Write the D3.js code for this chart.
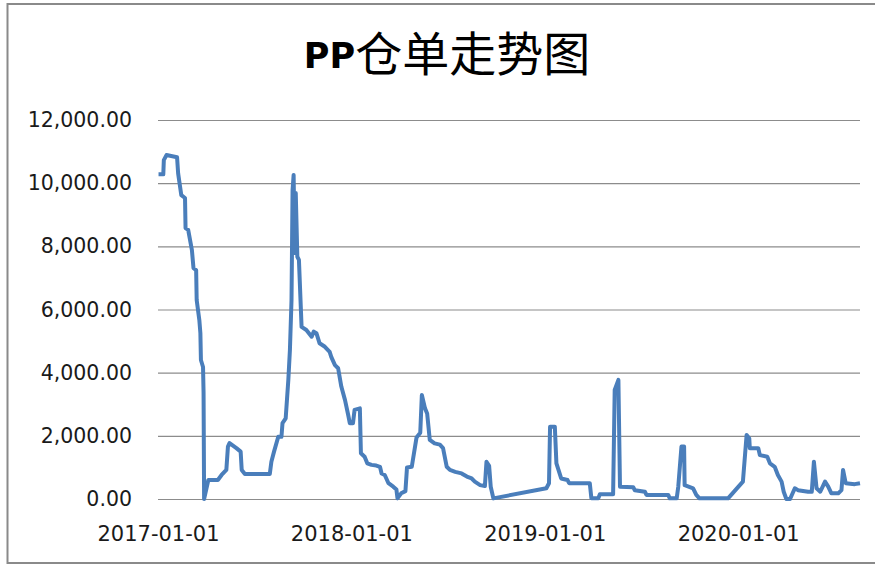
<!DOCTYPE html>
<meta charset="utf-8">
<html>
<head>
  <script src="https://cdn.jsdelivr.net/npm/d3@7"></script>
</head>
<style>
body {
    margin: 0;
    background-color: white;
}
.tick text {
    font-family: "DejaVu Sans", sans-serif;
    fill: #1a1a1a;
}
#title {
    text-anchor: middle;
}
</style>
<body>
<div id="container"></div>
<script type="text/javascript">

// PP warehouse receipts
var dates = [
  "2017-01-02","2017-01-11","2017-01-12","2017-01-17","2017-02-06","2017-02-08","2017-02-14","2017-02-21",
  "2017-02-22","2017-02-27","2017-03-06","2017-03-09","2017-03-14","2017-03-15","2017-03-20","2017-03-22",
  "2017-03-23","2017-03-27","2017-03-28","2017-03-29","2017-04-06","2017-04-24","2017-05-01","2017-05-10",
  "2017-05-13","2017-05-16","2017-05-29","2017-06-06","2017-06-08","2017-06-14","2017-07-31","2017-08-03",
  "2017-08-08","2017-08-16","2017-08-22","2017-08-24","2017-08-30","2017-09-04","2017-09-07","2017-09-10",
  "2017-09-12","2017-09-14","2017-09-16","2017-09-18","2017-09-21","2017-09-24","2017-09-29","2017-10-08",
  "2017-10-18","2017-10-22","2017-10-27","2017-11-02","2017-11-12","2017-11-21","2017-11-24","2017-12-01",
  "2017-12-07","2017-12-13","2017-12-20","2017-12-26","2017-12-29","2018-01-04","2018-01-07","2018-01-17",
  "2018-01-19","2018-01-26","2018-01-31","2018-02-08","2018-02-17","2018-02-24","2018-02-27","2018-03-05",
  "2018-03-12","2018-03-21","2018-03-27","2018-03-29","2018-04-05","2018-04-13","2018-04-16","2018-04-25",
  "2018-05-04","2018-05-11","2018-05-14","2018-05-20","2018-05-24","2018-05-29","2018-06-07","2018-06-17",
  "2018-06-23","2018-06-30","2018-07-06","2018-07-16","2018-07-28","2018-08-07","2018-08-16","2018-08-22",
  "2018-09-01","2018-09-10","2018-09-13","2018-09-18","2018-09-21","2018-09-26","2019-01-04","2019-01-09",
  "2019-01-11","2019-01-20","2019-01-23","2019-01-26","2019-02-01","2019-02-13","2019-02-16","2019-03-27",
  "2019-03-30","2019-04-12","2019-04-15","2019-05-10","2019-05-13","2019-05-20","2019-05-23","2019-06-17",
  "2019-06-20","2019-07-09","2019-07-12","2019-08-22","2019-08-25","2019-09-07","2019-09-10","2019-09-16",
  "2019-09-21","2019-09-22","2019-10-08","2019-10-14","2019-10-20","2019-12-13","2020-01-10","2020-01-17",
  "2020-01-22","2020-01-23","2020-02-08","2020-02-11","2020-02-25","2020-03-01","2020-03-10","2020-03-16",
  "2020-03-23","2020-03-27","2020-04-01","2020-04-08","2020-04-17","2020-04-23","2020-05-12","2020-05-19",
  "2020-05-23","2020-05-28","2020-06-04","2020-06-13","2020-06-19","2020-06-25","2020-07-08","2020-07-14",
  "2020-07-17","2020-07-22","2020-08-08","2020-08-18"
];

var receipts = [
  10280,10280,10730,10890,10820,10310,9620,9530,
  8580,8520,7880,7310,7250,6300,5670,5250,
  4400,4180,3360,0,600,600,760,920,
  1660,1770,1610,1500,920,790,790,1180,
  1500,1970,1970,2400,2550,3770,4720,6300,
  9780,10260,7790,9690,7670,7570,5450,5350,
  5140,5300,5250,4930,4820,4660,4500,4240,
  4140,3560,3130,2660,2400,2400,2820,2870,
  1450,1340,1130,1080,1060,1020,810,760,
  500,390,300,20,180,250,1000,1020,
  1950,2100,3290,2870,2710,1870,1760,1720,
  1610,1020,920,860,810,710,650,550,
  440,410,1180,1050,390,20,340,500,
  2290,2290,1130,970,650,600,500,500,
  20,20,150,150,3450,3770,390,370,
  280,230,130,130,20,20,390,1660,
  1660,440,340,130,20,20,550,2030,
  1920,1610,1610,1390,1340,1130,1020,760,
  550,230,0,0,340,280,230,230,
  1180,340,230,550,390,180,180,280,
  920,500,470,500
];

var yTicks = [0, 2000, 4000, 6000, 8000, 10000, 12000];
var xTicks = ["2017-01-01", "2018-01-01", "2019-01-01", "2020-01-01"];
var xEnd = "2020-08-18";
var titleText = "PP仓单走势图";

var width = 875;
var height = 565;
var margin = {left: 158, top: 120, bottom: 66, right: 15};

var parse = d3.timeParse("%Y-%m-%d");
var data = dates.map((d, i) => ({date: parse(d), value: receipts[i]}));

var svg = d3.select("#container")
            .append("svg")
            .attr("width", width)
            .attr("height", height)

// chart border (right edge falls outside the picture)
svg.append("rect")
   .attr("x", 7.5)
   .attr("y", 4)
   .attr("width", width + 20)
   .attr("height", height - 6)
   .attr("fill", "white")
   .attr("stroke", "#8a8a8a")
   .attr("stroke-width", 2)

var xScale = d3.scaleTime()
               .domain([parse(xTicks[0]), parse(xEnd)])
               .range([margin.left, width - margin.right])

var yScale = d3.scaleLinear()
               .domain([0, 12000])
               .range([height - margin.bottom, margin.top])

// gridlines + y labels
var yAxis = d3.axisLeft(yScale)
              .tickValues(yTicks)
              .tickSize(-(width - margin.right - margin.left))
              .tickPadding(26)
              .tickFormat(d3.format(",.2f"))

var gy = svg.append("g")
            .attr("transform", "translate(" + margin.left + ",0)")
            .call(yAxis)
gy.select(".domain").remove()
gy.selectAll(".tick line")
  .attr("stroke", "#8c8c8c")
  .attr("stroke-width", 1.2)
gy.selectAll(".tick text")
  .style("font-size", "20.5px")

var xAxis = d3.axisBottom(xScale)
              .tickValues(xTicks.map(parse))
              .tickSize(0)
              .tickPadding(27)
              .tickFormat(d3.timeFormat("%Y-%m-%d"))

var gx = svg.append("g")
            .attr("transform", "translate(0," + (height - margin.bottom) + ")")
            .call(xAxis)
gx.select(".domain").remove()
gx.selectAll(".tick text")
  .style("font-size", "21px")

var line = d3.line()
             .x(d => xScale(d.date))
             .y(d => yScale(d.value))

svg.append("path")
   .datum(data)
   .attr("fill", "none")
   .attr("stroke", "#4a7ebb")
   .attr("stroke-width", 4)
   .attr("stroke-linejoin", "round")
   .attr("d", line)

var title = svg.append("text")
               .attr("id", "title")
               .attr("x", 447)
               .attr("y", 68)
title.append("tspan")
     .attr("font-family", "'DejaVu Sans', sans-serif")
     .attr("font-weight", "bold")
     .attr("font-size", "35px")
     .text(titleText.slice(0, 2))
title.append("tspan")
     .attr("font-family", "'Noto Sans CJK SC', sans-serif")
     .attr("font-size", "47px")
     .attr("dy", 3)
     .text(titleText.slice(2))
</script>
</body>
</html>
